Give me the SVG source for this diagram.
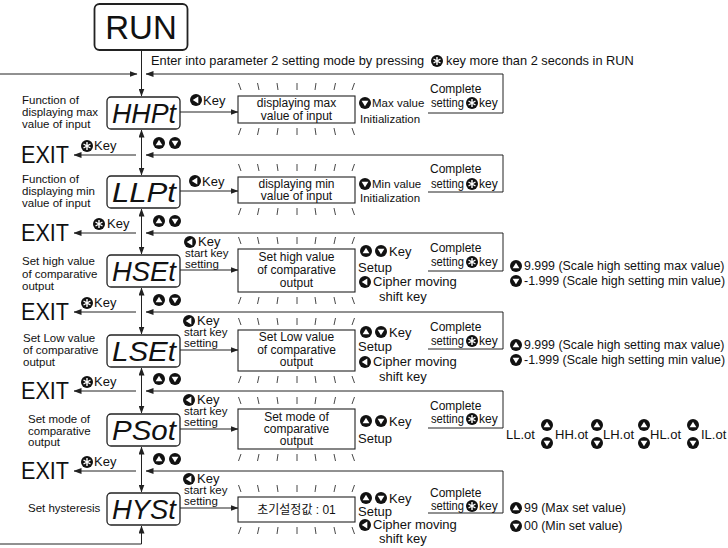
<svg xmlns="http://www.w3.org/2000/svg" width="728" height="548" viewBox="0 0 728 548">
<style>
text{font-family:"Liberation Sans",Arial,"Noto Sans CJK KR",sans-serif;font-size:12px;fill:#111}
.c{text-anchor:middle}
.lab{font-size:11.5px}
.top{font-size:12.8px}
.act{font-size:13px}
.val{font-size:12.4px}
.sm{font-size:11.5px}
.exit{font-size:24px}
.run{font-size:33px;text-anchor:middle}
.seg{font-style:italic;font-size:27px;text-anchor:middle}
.ln{stroke:#222;stroke-width:1;fill:none}
.box{fill:#fff;stroke:#222;stroke-width:1.3}
.fb{fill:#fff;stroke:#222;stroke-width:1.1}
</style>
<defs>
<marker id="ah" markerUnits="userSpaceOnUse" markerWidth="8" markerHeight="6" refX="7.5" refY="3" orient="auto-start-reverse"><path d="M0,0L8,3L0,6Z" fill="#222"/></marker>
<g id="kSet"><circle r="6" fill="#111"/><path d="M0,-4V4M-3.5,-2L3.5,2M-3.5,2L3.5,-2" stroke="#fff" stroke-width="1.4"/></g>
<g id="kUp"><circle r="6" fill="#111"/><path d="M0,-3.3L3.4,2.3H-3.4Z" fill="#fff"/></g>
<g id="kDn"><circle r="6" fill="#111"/><path d="M0,3.3L3.4,-2.3H-3.4Z" fill="#fff"/></g>
<g id="kL"><circle r="6" fill="#111"/><path d="M-3.3,0L2.3,-3.4V3.4Z" fill="#fff"/></g>
<path id="tkA" d="M238.5,0L241,7M257.5,0L259,7M277,0L278,7M297,0L297,7M316,0L315,7M335.5,0L334,7M354.5,0L352,7" stroke="#333" stroke-width="0.9" fill="none"/>
<path id="tkB" d="M241,0L238.5,7M259,0L257.5,7M278,0L277,7M297,0L297,7M315,0L316,7M334,0L335.5,7M352,0L354.5,7" stroke="#333" stroke-width="0.9" fill="none"/>
</defs>
<rect width="728" height="548" fill="#fff"/>

<g id="connectors" class="ln">
<path d="M141.5,50V96" marker-end="url(#ah)"/>
<path d="M0,74H137" marker-end="url(#ah)"/>
<path d="M428,113H503V74H146" marker-end="url(#ah)"/>
<path d="M141.5,130V175" marker-start="url(#ah)" marker-end="url(#ah)"/>
<path d="M141.5,209V254" marker-start="url(#ah)" marker-end="url(#ah)"/>
<path d="M141.5,288V334" marker-start="url(#ah)" marker-end="url(#ah)"/>
<path d="M141.5,368V413" marker-start="url(#ah)" marker-end="url(#ah)"/>
<path d="M141.5,447V492" marker-start="url(#ah)" marker-end="url(#ah)"/>
<path d="M0,544H141.5V526" marker-end="url(#ah)"/>
<path d="M136,155H74" marker-end="url(#ah)"/>
<path d="M136,233H74" marker-end="url(#ah)"/>
<path d="M136,312H74" marker-end="url(#ah)"/>
<path d="M136,391H74" marker-end="url(#ah)"/>
<path d="M136,471H74" marker-end="url(#ah)"/>
<path d="M428,192H503V155H146" marker-end="url(#ah)"/>
<path d="M428,271H503V233H146" marker-end="url(#ah)"/>
<path d="M428,349H503V312H146" marker-end="url(#ah)"/>
<path d="M428,428H503V391H146" marker-end="url(#ah)"/>
<path d="M428,513H503V471H146" marker-end="url(#ah)"/>
<path d="M180,112H238" marker-end="url(#ah)"/>
<path d="M180,191H238" marker-end="url(#ah)"/>
<path d="M180,270H238" marker-end="url(#ah)"/>
<path d="M180,350H238" marker-end="url(#ah)"/>
<path d="M180,429H238" marker-end="url(#ah)"/>
<path d="M180,508H238" marker-end="url(#ah)"/>
</g>

<g id="run">
<rect x="94.5" y="4" width="93" height="46" rx="5" fill="#fff" stroke="#222" stroke-width="1.8"/>
<text class="run" x="141" y="39">RUN</text>
</g>
<g id="entry-label">
<text class="top" x="151" y="65">Enter into parameter 2 setting mode by pressing</text>
<use href="#kSet" x="437" y="61"/>
<text class="top" x="446" y="65">key more than 2 seconds in RUN</text>
</g>

<!-- Row 1 -->
<g id="hhpt">
<text class="lab" x="22" y="104">Function of</text>
<text class="lab" x="22" y="116">displaying max</text>
<text class="lab" x="22" y="128">value of input</text>
<rect class="box" x="107" y="97" width="73" height="32" rx="4"/>
<text class="seg" x="144" y="123" textLength="64" lengthAdjust="spacingAndGlyphs">HHPt</text>
<use href="#kL" x="196" y="100"/><text class="act" x="203" y="105">Key</text>
</g>
<g id="hhpt-flash">
<use href="#tkA" y="83"/><use href="#tkB" y="128"/>
<rect class="fb" x="238" y="96" width="117" height="27"/>
<text class="c" x="296.5" y="107">displaying max</text>
<text class="c" x="296.5" y="120">value of input</text>
<use href="#kDn" x="365" y="103"/><text class="sm" x="372" y="107">Max value</text>
<text class="sm" x="360" y="123">Initialization</text>
<text x="430" y="93">Complete</text>
<text x="431" y="107" textLength="33" lengthAdjust="spacingAndGlyphs">setting</text><use href="#kSet" x="472" y="103"/><text x="479" y="107">key</text>
</g>
<g id="exit1">
<text class="exit" x="21" y="163" textLength="48" lengthAdjust="spacingAndGlyphs">EXIT</text>
<use href="#kSet" x="87" y="146"/><text class="act" x="94" y="150">Key</text>
<use href="#kUp" x="159" y="143"/><use href="#kDn" x="175" y="143"/>
</g>

<!-- Row 2 -->
<g id="llpt">
<text class="lab" x="22" y="183">Function of</text>
<text class="lab" x="22" y="195">displaying min</text>
<text class="lab" x="22" y="207">value of input</text>
<rect class="box" x="107" y="176" width="73" height="32" rx="4"/>
<text class="seg" x="144" y="202" textLength="64" lengthAdjust="spacingAndGlyphs">LLPt</text>
<use href="#kL" x="195" y="181"/><text class="act" x="202" y="186">Key</text>
</g>
<g id="llpt-flash">
<use href="#tkA" y="164"/><use href="#tkB" y="208"/>
<rect class="fb" x="238" y="177" width="117" height="26"/>
<text class="c" x="296.5" y="188">displaying min</text>
<text class="c" x="296.5" y="200">value of input</text>
<use href="#kDn" x="365" y="184"/><text class="sm" x="372" y="188">Min value</text>
<text class="sm" x="360" y="202">Initialization</text>
<text x="430" y="173">Complete</text>
<text x="431" y="188" textLength="33" lengthAdjust="spacingAndGlyphs">setting</text><use href="#kSet" x="472" y="184"/><text x="479" y="188">key</text>
</g>
<g id="exit2">
<text class="exit" x="21" y="241" textLength="48" lengthAdjust="spacingAndGlyphs">EXIT</text>
<use href="#kSet" x="99" y="224"/><text class="act" x="107" y="228">Key</text>
<use href="#kUp" x="159" y="221"/><use href="#kDn" x="175" y="221"/>
</g>

<!-- Row 3 -->
<g id="hset">
<text class="lab" x="22" y="265">Set high value</text>
<text class="lab" x="22" y="278">of comparative</text>
<text class="lab" x="22" y="290">output</text>
<rect class="box" x="107" y="255" width="73" height="32" rx="4"/>
<text class="seg" x="144" y="281" textLength="64" lengthAdjust="spacingAndGlyphs">HSEt</text>
<use href="#kL" x="190" y="242"/><text class="act" x="198" y="246">Key</text>
<text class="sm" x="185" y="257">start key</text>
<text class="sm" x="185" y="268">setting</text>
</g>
<g id="hset-flash">
<use href="#tkA" y="237"/><use href="#tkB" y="297"/>
<rect class="fb" x="238" y="249" width="117" height="43"/>
<text class="c" x="296.5" y="261">Set high value</text>
<text class="c" x="296.5" y="274">of comparative</text>
<text class="c" x="296.5" y="287">output</text>
<use href="#kUp" x="366" y="251"/><use href="#kDn" x="381" y="251"/><text class="act" x="389" y="256">Key</text>
<text class="act" x="358" y="272">Setup</text>
<use href="#kL" x="365" y="282"/><text class="act" x="373" y="286">Cipher moving</text>
<text class="act" x="379" y="301">shift key</text>
<text x="430" y="252">Complete</text>
<text x="431" y="266" textLength="33" lengthAdjust="spacingAndGlyphs">setting</text><use href="#kSet" x="472" y="262"/><text x="479" y="266">key</text>
<use href="#kUp" x="516" y="266"/><text class="val" x="524" y="270">9.999 (Scale high setting max value)</text>
<use href="#kDn" x="516" y="281"/><text class="val" x="524" y="285">-1.999 (Scale high setting min value)</text>
</g>
<g id="exit3">
<text class="exit" x="21" y="320" textLength="48" lengthAdjust="spacingAndGlyphs">EXIT</text>
<use href="#kSet" x="87" y="303"/><text class="act" x="94" y="307">Key</text>
<use href="#kUp" x="159" y="300"/><use href="#kDn" x="175" y="300"/>
</g>

<!-- Row 4 -->
<g id="lset">
<text class="lab" x="23" y="342">Set Low value</text>
<text class="lab" x="23" y="354">of comparative</text>
<text class="lab" x="23" y="366">output</text>
<rect class="box" x="107" y="335" width="73" height="32" rx="4"/>
<text class="seg" x="144" y="361" textLength="64" lengthAdjust="spacingAndGlyphs">LSEt</text>
<use href="#kL" x="189" y="321"/><text class="act" x="197" y="325">Key</text>
<text class="sm" x="184" y="336">start key</text>
<text class="sm" x="184" y="347">setting</text>
</g>
<g id="lset-flash">
<use href="#tkA" y="318"/><use href="#tkB" y="376"/>
<rect class="fb" x="238" y="330" width="117" height="41"/>
<text class="c" x="296.5" y="341">Set Low value</text>
<text class="c" x="296.5" y="354">of comparative</text>
<text class="c" x="296.5" y="366">output</text>
<use href="#kUp" x="366" y="332"/><use href="#kDn" x="381" y="332"/><text class="act" x="389" y="337">Key</text>
<text class="act" x="358" y="351">Setup</text>
<use href="#kL" x="365" y="362"/><text class="act" x="373" y="366">Cipher moving</text>
<text class="act" x="379" y="381">shift key</text>
<text x="430" y="331">Complete</text>
<text x="431" y="345" textLength="33" lengthAdjust="spacingAndGlyphs">setting</text><use href="#kSet" x="472" y="341"/><text x="479" y="345">key</text>
<use href="#kUp" x="516" y="345"/><text class="val" x="524" y="349">9.999 (Scale high setting max value)</text>
<use href="#kDn" x="516" y="360"/><text class="val" x="524" y="364">-1.999 (Scale high setting min value)</text>
</g>
<g id="exit4">
<text class="exit" x="21" y="399" textLength="48" lengthAdjust="spacingAndGlyphs">EXIT</text>
<use href="#kSet" x="87" y="382"/><text class="act" x="94" y="386">Key</text>
<use href="#kUp" x="159" y="379"/><use href="#kDn" x="175" y="379"/>
</g>

<!-- Row 5 -->
<g id="psot">
<text class="lab" x="28" y="423">Set mode of</text>
<text class="lab" x="28" y="435">comparative</text>
<text class="lab" x="28" y="446">output</text>
<rect class="box" x="107" y="414" width="73" height="32" rx="4"/>
<text class="seg" x="144" y="440" textLength="64" lengthAdjust="spacingAndGlyphs">PSot</text>
<use href="#kL" x="189" y="400"/><text class="act" x="197" y="404">Key</text>
<text class="sm" x="184" y="415">start key</text>
<text class="sm" x="184" y="426">setting</text>
</g>
<g id="psot-flash">
<use href="#tkA" y="397"/><use href="#tkB" y="454"/>
<rect class="fb" x="238" y="409" width="117" height="40"/>
<text class="c" x="296.5" y="421">Set mode of</text>
<text class="c" x="296.5" y="433">comparative</text>
<text class="c" x="296.5" y="445">output</text>
<use href="#kUp" x="366" y="421"/><use href="#kDn" x="381" y="421"/><text class="act" x="389" y="426">Key</text>
<text class="act" x="358" y="443">Setup</text>
<text x="430" y="410">Complete</text>
<text x="431" y="423" textLength="33" lengthAdjust="spacingAndGlyphs">setting</text><use href="#kSet" x="472" y="419"/><text x="479" y="423">key</text>
<text class="act" x="506" y="439">LL.ot</text>
<use href="#kUp" x="547" y="425"/><use href="#kDn" x="547" y="443"/>
<text class="act" x="555" y="439">HH.ot</text>
<use href="#kUp" x="597" y="425"/><use href="#kDn" x="597" y="443"/>
<text class="act" x="603" y="439">LH.ot</text>
<use href="#kUp" x="644" y="425"/><use href="#kDn" x="644" y="443"/>
<text class="act" x="650" y="439">HL.ot</text>
<use href="#kUp" x="693" y="425"/><use href="#kDn" x="693" y="443"/>
<text class="act" x="701" y="439">IL.ot</text>
</g>
<g id="exit5">
<text class="exit" x="21" y="479" textLength="48" lengthAdjust="spacingAndGlyphs">EXIT</text>
<use href="#kSet" x="87" y="462"/><text class="act" x="94" y="466">Key</text>
<use href="#kUp" x="159" y="459"/><use href="#kDn" x="175" y="459"/>
</g>

<!-- Row 6 -->
<g id="hyst">
<text class="lab" x="28" y="512">Set hysteresis</text>
<rect class="box" x="107" y="493" width="73" height="32" rx="4"/>
<text class="seg" x="144" y="519" textLength="64" lengthAdjust="spacingAndGlyphs">HYSt</text>
<use href="#kL" x="189" y="479"/><text class="act" x="197" y="483">Key</text>
<text class="sm" x="184" y="494">start key</text>
<text class="sm" x="184" y="505">setting</text>
</g>
<g id="hyst-flash">
<use href="#tkA" y="485"/><use href="#tkB" y="527"/>
<rect class="fb" x="238" y="497" width="117" height="25"/>
<text class="c" x="296.5" y="514">초기설정값 : 01</text>
<use href="#kUp" x="366" y="498"/><use href="#kDn" x="381" y="498"/><text class="act" x="389" y="503">Key</text>
<text class="act" x="358" y="516">Setup</text>
<use href="#kL" x="365" y="525"/><text class="act" x="373" y="529">Cipher moving</text>
<text class="act" x="379" y="543">shift key</text>
<text x="430" y="497">Complete</text>
<text x="431" y="510" textLength="33" lengthAdjust="spacingAndGlyphs">setting</text><use href="#kSet" x="472" y="506"/><text x="479" y="510">key</text>
<use href="#kUp" x="516" y="508"/><text class="val" x="524" y="512">99 (Max set value)</text>
<use href="#kDn" x="516" y="526"/><text class="val" x="524" y="530">00 (Min set value)</text>
</g>
</svg>
